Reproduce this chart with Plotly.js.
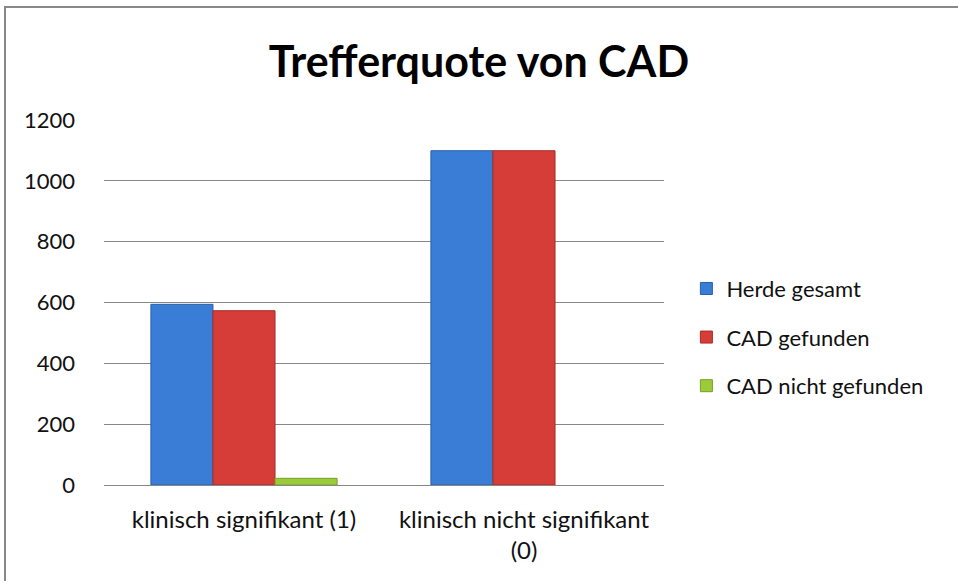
<!DOCTYPE html>
<html><head><meta charset="utf-8">
<script src="https://cdn.plot.ly/plotly-3.0.1.min.js"></script>
<style>
html,body{margin:0;padding:0;background:#fff;}
#frame{position:absolute;left:4px;top:6px;width:960px;height:580px;border:2px solid #888;box-sizing:border-box;}
#chart{position:absolute;left:0;top:0;width:958px;height:581px;}
</style></head>
<body>
<div id="chart"></div>
<div id="frame"></div>
<script>
const categories = ["klinisch signifikant (1)", "klinisch nicht signifikant<br>(0)"];
const herdeGesamt = [594, 1099];
const cadGefunden = [573, 1099];
const cadNichtGefunden = [22, 0];
const seriesNames = ["Herde gesamt", "CAD gefunden", "CAD nicht gefunden"];
const yTicks = [0, 200, 400, 600, 800, 1000, 1200];

const fontFam = "Lato, 'Open Sans', sans-serif";
const colors = ["#3A7DD6", "#D63D39", "#9CCB3A"];
const lines = ["#2A5FA8", "#A82C29", "#7A9E2A"];
const vals = [herdeGesamt, cadGefunden, cadNichtGefunden];
const traces = vals.map((v, i) => ({
  type: "bar", x: categories, y: v, name: seriesNames[i], legendgroup: "g" + i,
  marker: {color: colors[i], line: {color: lines[i], width: v.map(d => d === 0 ? 0 : 1)}}
}));

const layout = {
  width: 958, height: 581,
  margin: {l: 104, r: 294, t: 120, b: 96, autoexpand: false},
  paper_bgcolor: "#fff", plot_bgcolor: "#fff",
  barmode: "group", bargap: 0.335, bargroupgap: 0,
  title: {text: "<b>Trefferquote von CAD</b>", x: 0.5, xanchor: "center", y: 0.893, yanchor: "middle",
          font: {family: fontFam, size: 43, color: "#000"}},
  font: {family: fontFam, size: 22, color: "#111"},
  xaxis: {showline: true, linecolor: "#888", linewidth: 1, ticks: "", tickfont: {size: 24},
          ticklabelstandoff: 13, fixedrange: true},
  yaxis: {range: [0, 1200], tickvals: yTicks, ticktext: yTicks.map(String), showgrid: true,
          gridcolor: "#888", gridwidth: 1, zeroline: false, showline: false, ticks: "",
          ticklabelstandoff: 28, tickfont: {size: 22}, fixedrange: true},
  showlegend: true,
  legend: {x: 1.04, xanchor: "left", y: 0.405, yanchor: "middle", font: {size: 22},
           tracegroupgap: 17, itemwidth: 30, traceorder: "grouped", bgcolor: "rgba(0,0,0,0)"}
};
Plotly.newPlot("chart", traces, layout, {displayModeBar: false, staticPlot: true});
</script>
</body></html>
